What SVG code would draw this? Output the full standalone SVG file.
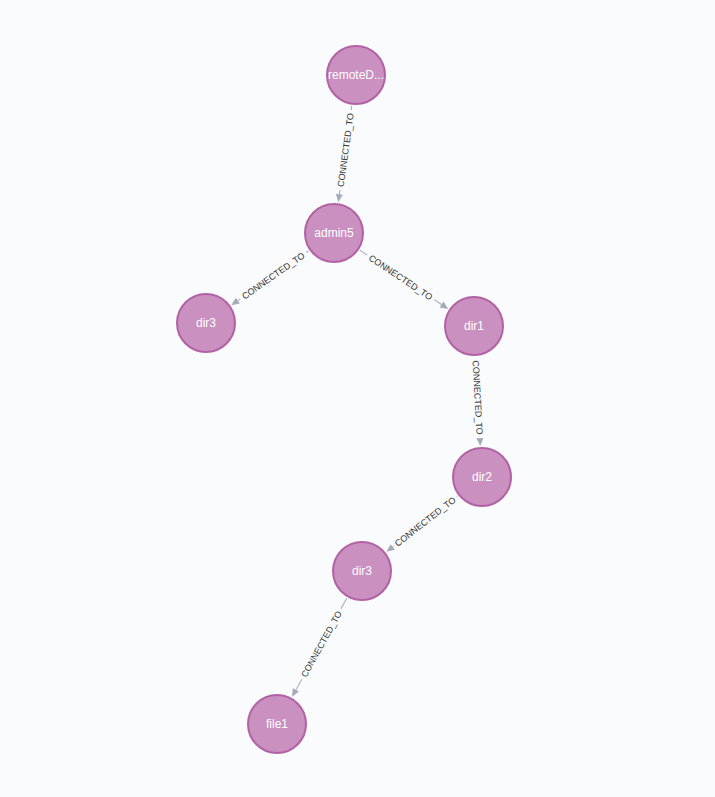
<svg xmlns="http://www.w3.org/2000/svg" width="715" height="797" viewBox="0 0 715 797">
<style>
.node circle{fill:#C990C0;stroke:#B261A5;stroke-width:2}
.node text{fill:#FFFFFF;font-family:"Liberation Sans",Arial,sans-serif;font-size:12px;text-anchor:middle}
.rel line{stroke:#A5ABB6;stroke-width:1}
.rel polygon{fill:#A5ABB6}
.rel text{fill:#333333;font-family:"Liberation Sans",Arial,sans-serif;font-size:9px;text-anchor:middle}
</style>
<rect width="715" height="797" fill="#F9FBFD"/>
<g id="connectors">
  <g class="rel" transform="translate(351.7,105.7) rotate(97.93)">
    <line x1="0" y1="0" x2="4.5" y2="0"/><line x1="85" y1="0" x2="89.5" y2="0"/>
    <polygon points="89.5,-3.5 97.5,0 89.5,3.5"/>
    <text x="44.75" y="3.2" transform="rotate(180 44.75 0)">CONNECTED_TO</text>
  </g>
  <g class="rel" transform="translate(308.6,250.8) rotate(144.89)">
    <line x1="0" y1="0" x2="3" y2="0"/><line x1="83.5" y1="0" x2="86.5" y2="0"/>
    <polygon points="86.5,-3.5 94.5,0 86.5,3.5"/>
    <text x="43.25" y="3.2" transform="rotate(180 43.25 0)">CONNECTED_TO</text>
  </g>
  <g class="rel" transform="translate(359.8,250.2) rotate(33.6)">
    <line x1="0" y1="0" x2="8.8" y2="0"/><line x1="89.3" y1="0" x2="98.1" y2="0"/>
    <polygon points="98.1,-3.5 106.1,0 98.1,3.5"/>
    <text x="49.05" y="3.2">CONNECTED_TO</text>
  </g>
  <g class="rel" transform="translate(475.6,357) rotate(86.97)">
    <polygon points="81.2,-3.5 89.2,0 81.2,3.5"/>
    <text x="40.6" y="3.2">CONNECTED_TO</text>
  </g>
  <g class="rel" transform="translate(457.6,496.1) rotate(141.93)">
    <line x1="0" y1="0" x2="1" y2="0"/><line x1="81.4" y1="0" x2="82.4" y2="0"/>
    <polygon points="82.4,-3.5 90.4,0 82.4,3.5"/>
    <text x="41.2" y="3.2" transform="rotate(180 41.2 0)">CONNECTED_TO</text>
  </g>
  <g class="rel" transform="translate(346.9,598.1) rotate(119.06)">
    <line x1="0" y1="0" x2="12.25" y2="0"/><line x1="92.75" y1="0" x2="105" y2="0"/>
    <polygon points="105,-3.5 113,0 105,3.5"/>
    <text x="52.5" y="3.2" transform="rotate(180 52.5 0)">CONNECTED_TO</text>
  </g>
</g>
<g id="node-remoteD" class="node"><circle cx="356" cy="75" r="29"/><text x="356" y="79">remoteD...</text></g>
<g id="node-admin5" class="node"><circle cx="334" cy="233" r="29"/><text x="334" y="237">admin5</text></g>
<g id="node-dir3-a" class="node"><circle cx="206" cy="323" r="29"/><text x="206" y="327">dir3</text></g>
<g id="node-dir1" class="node"><circle cx="474" cy="326" r="29"/><text x="474" y="330">dir1</text></g>
<g id="node-dir2" class="node"><circle cx="482" cy="477" r="29"/><text x="482" y="481">dir2</text></g>
<g id="node-dir3-b" class="node"><circle cx="362" cy="571" r="29"/><text x="362" y="575">dir3</text></g>
<g id="node-file1" class="node"><circle cx="277" cy="724" r="29"/><text x="277" y="728">file1</text></g>
</svg>
